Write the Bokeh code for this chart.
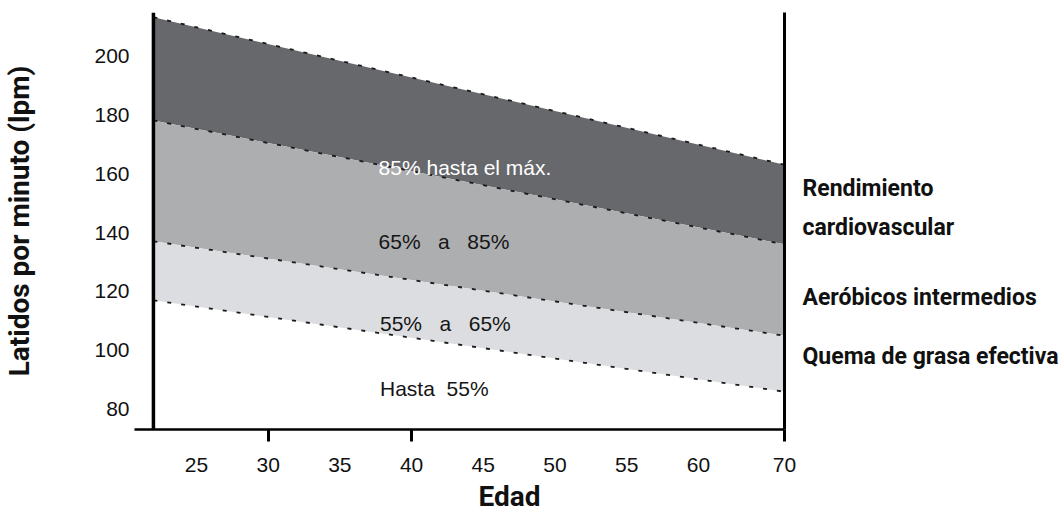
import numpy as np
from bokeh.plotting import figure
from bokeh.models import Range1d, LinearAxis, FixedTicker, Span, Title, ColumnDataSource
from bokeh.embed import file_html
from bokeh.resources import INLINE
from bokeh.core.properties import value

# ---------------- data ----------------
ages = [22, 70]              # left and right edges of the chart (years)
max_hr = [213, 163]          # maximum heart rate (lpm)
hr_85 = [178, 136]           # 85 % boundary
hr_65 = [137, 105]           # 65 % boundary
hr_55 = [117, 86]            # 55 % boundary

x_ticks = [25, 30, 35, 40, 45, 50, 55, 60, 70]
x_tick_labels = ["25", "30", "35", "40", "45", "50", "55", "60", "70"]
x_marked_ticks = [30, 40, 70]
y_ticks = [80, 100, 120, 140, 160, 180, 200]

NB = "\u00a0"
zone_texts = ["85% hasta el máx.",
              "65%" + NB * 3 + "a" + NB * 3 + "85%",
              "55%" + NB * 3 + "a" + NB * 3 + "65%",
              "Hasta" + NB * 2 + "55%"]
zone_text_colors = ["white", "#151515", "#151515", "#151515"]
zone_names = ["Rendimiento\ncardiovascular", "Aeróbicos intermedios", "Quema de grasa efectiva"]

# annotation anchors (age, lpm)
zone_text_age = [37.7, 37.7, 37.8, 37.8]
zone_text_bpm = [162.0, 137.0, 109.2, 87.1]
zone_name_bpm = [148.3, 118.0, 98.0]

TICKFONT = "Liberation Sans"


def pos(a):
    """Horizontal display position: the original chart squeezes 60-70."""
    a = np.asarray(a, dtype=float)
    return np.where(a <= 60, a, 60 + (a - 60) * 0.6)


xs = pos(ages)

p = figure(width=1061, height=516, output_backend="svg", toolbar_location=None,
           x_range=Range1d(20.68, 66.005), y_range=Range1d(73.2, 214.6),
           min_border_left=133, min_border_right=276, min_border_top=12,
           min_border_bottom=87, x_axis_location=None, y_axis_location=None)
p.outline_line_color = None
p.xgrid.visible = False
p.ygrid.visible = False
p.background_fill_color = "white"
p.border_fill_color = "white"

# bands
p.varea(x=xs, y1=hr_85, y2=max_hr, fill_color="#67686c")
p.varea(x=xs, y1=hr_65, y2=hr_85, fill_color="#adaeb0")
p.varea(x=xs, y1=hr_55, y2=hr_65, fill_color="#dcdde0")

for ys in (max_hr, hr_85, hr_65, hr_55):
    p.line(x=xs, y=ys, line_color="#1a1a1a", line_width=1.8, line_dash="4 10")

# left heavy vertical line at the first age
p.add_layout(Span(location=float(xs[0]), dimension="height", line_color="black", line_width=3.5))

# zone texts inside the bands
src = ColumnDataSource(dict(x=pos(zone_text_age), y=zone_text_bpm, t=zone_texts, c=zone_text_colors))
p.text(x="x", y="y", text="t", text_color="c", source=src, text_font=value(TICKFONT),
       text_font_size="21px", text_baseline="middle", text_align="left")

# y axis (labels only)
yax = LinearAxis(ticker=FixedTicker(ticks=y_ticks))
yax.axis_line_color = None
yax.major_tick_line_color = None
yax.minor_tick_line_color = None
yax.major_tick_out = 0
yax.major_tick_in = 0
yax.major_label_standoff = 5
yax.major_label_text_font = TICKFONT
yax.major_label_text_font_size = "21px"
yax.major_label_text_color = "#111111"
yax.axis_label = "Latidos por minuto (lpm)"
yax.axis_label_text_font = "Roboto"
yax.axis_label_text_font_style = "bold"
yax.axis_label_text_font_size = "28px"
yax.axis_label_text_color = "#111111"
yax.axis_label_standoff = 55
p.add_layout(yax, "left")

# right side: vertical line + zone names
rax = LinearAxis(ticker=FixedTicker(ticks=zone_name_bpm))
rax.major_label_overrides = {v: n for v, n in zip(zone_name_bpm, zone_names)}
rax.axis_line_width = 3
rax.axis_line_color = "black"
rax.major_tick_line_color = None
rax.minor_tick_line_color = None
rax.major_tick_out = 0
rax.major_tick_in = 0
rax.major_label_standoff = 18
rax.major_label_text_font = "Roboto"
rax.major_label_text_font_style = "bold"
rax.major_label_text_font_size = "23px"
rax.major_label_text_line_height = 1.45
rax.major_label_text_color = "#111111"
p.add_layout(rax, "right")

# bottom axis: line and tick marks
xax1 = LinearAxis(ticker=FixedTicker(ticks=list(pos(x_marked_ticks))))
xax1.major_label_overrides = {float(v): "" for v in pos(x_marked_ticks)}
xax1.axis_line_width = 2.5
xax1.axis_line_color = "black"
xax1.major_tick_out = 12
xax1.major_tick_in = 0
xax1.major_tick_line_width = 3
xax1.major_tick_line_color = "black"
xax1.minor_tick_line_color = None
xax1.major_label_standoff = 0
p.add_layout(xax1, "below")

# bottom axis: tick labels
tpos = [float(v) for v in pos(x_ticks)]
xax2 = LinearAxis(ticker=FixedTicker(ticks=tpos))
xax2.major_label_overrides = {v: lab for v, lab in zip(tpos, x_tick_labels)}
xax2.axis_line_color = None
xax2.major_tick_line_color = None
xax2.minor_tick_line_color = None
xax2.major_tick_out = 0
xax2.major_tick_in = 0
xax2.major_label_standoff = 16
xax2.major_label_text_font = TICKFONT
xax2.major_label_text_font_size = "21px"
xax2.major_label_text_color = "#111111"
p.add_layout(xax2, "below")

# x axis title (off-centre in the original)
p.add_layout(Title(text="Edad", align="left", offset=344, standoff=6,
                   text_font="Roboto", text_font_style="bold", text_font_size="28px",
                   text_color="#111111"), "below")

open("out.html", "w").write(file_html(p, INLINE))
